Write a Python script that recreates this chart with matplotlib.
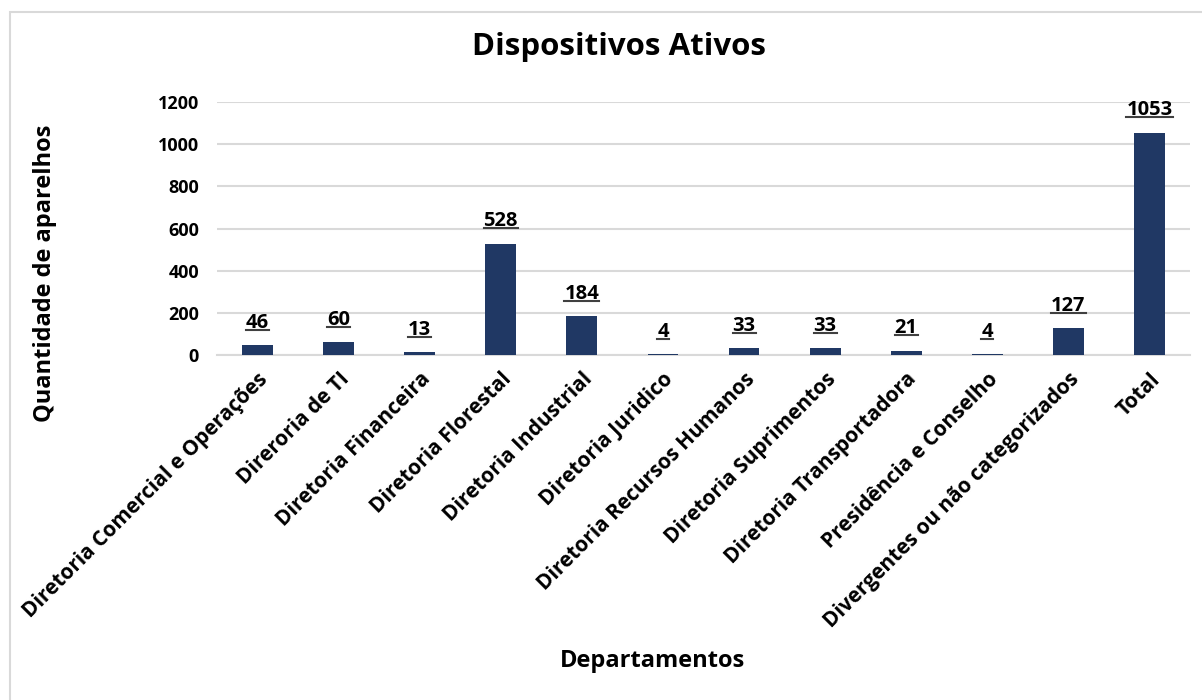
import matplotlib.pyplot as plt
import matplotlib.patches as mpatches
from matplotlib.lines import Line2D

departamentos = [
    "Diretoria Comercial e Operações",
    "Direroria de TI",
    "Diretoria Financeira",
    "Diretoria Florestal",
    "Diretoria Industrial",
    "Diretoria Juridico",
    "Diretoria Recursos Humanos",
    "Diretoria Suprimentos",
    "Diretoria Transportadora",
    "Presidência e Conselho",
    "Divergentes ou não categorizados",
    "Total",
]
quantidades = [46, 60, 13, 528, 184, 4, 33, 33, 21, 4, 127, 1053]
y_ticks = [0, 200, 400, 600, 800, 1000, 1200]

plt.rcParams['font.family'] = ['Open Sans', 'DejaVu Sans']
plt.rcParams['font.weight'] = 'bold'

fig = plt.figure(figsize=(12.02, 7.0), dpi=100)
ax = fig.add_axes([217 / 1202, 1 - 355 / 700, (1190 - 217) / 1202, (355 - 102) / 700])

# frame around the chart area
frame = mpatches.Rectangle((10 / 1202, -0.1), 1.2, (700 - 12) / 700 + 0.1,
                           transform=fig.transFigure, fill=False,
                           edgecolor='#d9d9d9', linewidth=1.5)
fig.patches.append(frame)

x = range(len(departamentos))
bars = ax.bar(x, quantidades, width=0.38, color='#203864', zorder=3)

labels = []
for xi, v in zip(x, quantidades):
    t = ax.annotate(str(v), (xi, v), xytext=(0, 9),
                    textcoords='offset points', ha='center', va='bottom',
                    fontsize=14.5, fontweight='bold', color='black')
    labels.append(t)

ax.set_ylim(0, 1200)
ax.set_xlim(-0.5, len(departamentos) - 0.5)
ax.set_yticks(y_ticks)
ax.set_yticklabels([str(t) for t in y_ticks], fontsize=13, fontweight='bold')
ax.set_xticks(list(x))
ax.set_xticklabels(departamentos, rotation=45, ha='right', rotation_mode='anchor',
                   fontsize=15, fontweight='bold')
ax.tick_params(axis='both', length=0)
ax.tick_params(axis='y', pad=13)
ax.tick_params(axis='x', pad=10)

ax.grid(axis='y', color='#d9d9d9', linewidth=1.5, zorder=0)
for s in ['top', 'right', 'left']:
    ax.spines[s].set_visible(False)
ax.spines['bottom'].set_color('#d9d9d9')
ax.spines['bottom'].set_linewidth(1.5)

fig.text(619 / 1202, 1 - 47 / 700, 'Dispositivos Ativos', ha='center', va='center',
         fontsize=22.5, fontweight='bold')
fig.text(45 / 1202, 1 - 273 / 700, 'Quantidade de aparelhos', ha='center', va='center',
         rotation=90, fontsize=17, fontweight='bold')
fig.text(653 / 1202, 1 - 661 / 700, 'Departamentos', ha='center', va='center',
         fontsize=17, fontweight='bold')

# underline the data labels
fig.canvas.draw()
W, H = fig.get_size_inches() * fig.dpi
for t in labels:
    bb = t.get_window_extent()
    yline = bb.y0 + 3
    fig.add_artist(Line2D([bb.x0 / W, bb.x1 / W], [yline / H, yline / H],
                          transform=fig.transFigure, color='#404040', linewidth=1.5))

fig.savefig('out.png', dpi=100)
